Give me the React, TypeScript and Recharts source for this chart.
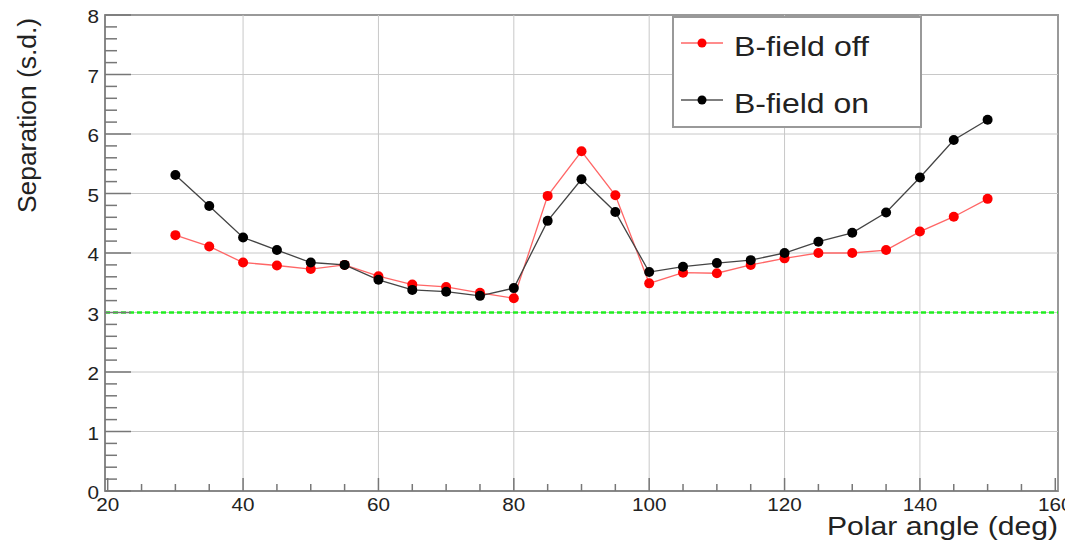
import React from 'react';
import { LineChart, Line, XAxis, YAxis, ReferenceLine, ReferenceArea, Legend } from 'recharts';

const angles = [30, 35, 40, 45, 50, 55, 60, 65, 70, 75, 80, 85, 90, 95, 100, 105, 110, 115, 120, 125, 130, 135, 140, 145, 150];
const bFieldOff = [4.30, 4.11, 3.84, 3.79, 3.73, 3.80, 3.61, 3.47, 3.43, 3.33, 3.24, 4.96, 5.71, 4.97, 3.49, 3.67, 3.66, 3.80, 3.91, 4.00, 4.00, 4.05, 4.36, 4.61, 4.91];
const bFieldOn = [5.31, 4.79, 4.26, 4.05, 3.84, 3.80, 3.55, 3.38, 3.35, 3.28, 3.41, 4.54, 5.24, 4.69, 3.68, 3.77, 3.83, 3.88, 4.00, 4.19, 4.34, 4.68, 5.27, 5.90, 6.24];

const xTicks = [20, 25, 30, 35, 40, 45, 50, 55, 60, 65, 70, 75, 80, 85, 90, 95, 100, 105, 110, 115, 120, 125, 130, 135, 140, 145, 150, 155, 160];
const xMajor = [20, 40, 60, 80, 100, 120, 140, 160];
const yTicks = [0, 0.2, 0.4, 0.6, 0.8, 1, 1.2, 1.4, 1.6, 1.8, 2, 2.2, 2.4, 2.6, 2.8, 3, 3.2, 3.4, 3.6, 3.8, 4, 4.2, 4.4, 4.6, 4.8, 5, 5.2, 5.4, 5.6, 5.8, 6, 6.2, 6.4, 6.6, 6.8, 7, 7.2, 7.4, 7.6, 7.8, 8];
const yMajor = [0, 1, 2, 3, 4, 5, 6, 7, 8];
const threshold = 3;

const seriesOff = 'B-field off';
const seriesOn = 'B-field on';

const data = angles.map((a, i) => ({ angle: a, off: bFieldOff[i], on: bFieldOn[i] }));

const FONT = '"Liberation Sans", Arial, Helvetica, sans-serif';
const TICK = '#777';

const XTick = (props: any) => {
  const { x, y, payload } = props;
  const v = payload.value;
  const major = xMajor.includes(v);
  return (
    <g>
      <line x1={x} x2={x} y1={y} y2={y - (major ? 13 : 7)} stroke={TICK} strokeWidth={1.5} />
      {major && (
        <text transform={`translate(${x},${y + 20}) scale(1.15,1)`} textAnchor="middle" fontSize={18} fill="#222" fontFamily={FONT}>
          {v}
        </text>
      )}
    </g>
  );
};

const YTick = (props: any) => {
  const { x, y, payload } = props;
  const v = payload.value;
  const major = yMajor.includes(v);
  return (
    <g>
      <line x1={x} x2={x + (major ? 26 : 12)} y1={y} y2={y} stroke={TICK} strokeWidth={1.5} />
      {major && (
        <text transform={`translate(${x - 6},${y + 8}) scale(1.15,1)`} textAnchor="end" fontSize={18} fill="#222" fontFamily={FONT}>
          {v}
        </text>
      )}
    </g>
  );
};

const XTitle = (props: any) => {
  const vb = props.viewBox || { x: 97, y: 483, width: 953, height: 52 };
  return (
    <text x={vb.x + vb.width} y={vb.y + 44} textAnchor="end" fontSize={25} fill="#222" fontFamily={FONT} textLength={231} lengthAdjust="spacingAndGlyphs">
      Polar angle (deg)
    </text>
  );
};

const YTitle = (props: any) => {
  const vb = props.viewBox || { x: 0, y: 7, width: 97, height: 476 };
  const tx = vb.x + 28;
  const ty = vb.y + 3;
  return (
    <text transform={`translate(${tx},${ty}) rotate(-90)`} x={0} y={0} textAnchor="end" fontSize={26} fill="#222" fontFamily={FONT} textLength={195} lengthAdjust="spacingAndGlyphs">
      Separation (s.d.)
    </text>
  );
};

const LegendBox = (props: any) => {
  const payload = props.payload || [];
  const rows = [27, 84];
  return (
    <svg width={250} height={112} style={{ display: 'block' }}>
      <rect x={1} y={1} width={248} height={110} fill="#fff" stroke="#999" strokeWidth={2} />
      {payload.map((p: any, i: number) => {
        const cy = rows[i] ?? 27 + i * 57;
        const lineColor = p.dataKey === 'off' ? '#ff6666' : '#555';
        const dotColor = p.dataKey === 'off' ? '#ff0000' : '#000';
        return (
          <g key={p.value}>
            <line x1={9} x2={51} y1={cy} y2={cy} stroke={lineColor} strokeWidth={1.3} />
            <circle cx={30} cy={cy} r={4.5} fill={dotColor} />
            <text x={62} y={cy + 13} fontSize={28} fill="#222" fontFamily={FONT} textLength={135} lengthAdjust="spacingAndGlyphs">
              {p.value}
            </text>
          </g>
        );
      })}
    </svg>
  );
};

export default function App() {
  return (
    <LineChart width={1065} height={535} data={data} margin={{ top: 7, right: 15, left: 0, bottom: 0 }}>
      {xMajor.slice(1, -1).map((v) => (
        <ReferenceLine key={'gx' + v} x={v} stroke="#c8c8c8" strokeWidth={1} />
      ))}
      {yMajor.slice(1, -1).map((v) => (
        <ReferenceLine key={'gy' + v} y={v} stroke="#c8c8c8" strokeWidth={1} />
      ))}
      <ReferenceArea x1={19.6} x2={160.4} y1={0} y2={8} fill="none" stroke="#999" strokeWidth={2} />
      <ReferenceLine y={threshold} stroke="#22ee22" strokeWidth={2.5} strokeDasharray="5 3" />
      <XAxis
        dataKey="angle"
        type="number"
        domain={[19.6, 160.4]}
        allowDataOverflow
        ticks={xTicks}
        interval={0}
        tickSize={0}
        tickMargin={0}
        tickLine={false}
        axisLine={{ stroke: '#888', strokeWidth: 2 }}
        height={52}
        tick={<XTick />}
        label={<XTitle />}
      />
      <YAxis
        type="number"
        domain={[0, 8]}
        allowDataOverflow
        ticks={yTicks}
        interval={0}
        tickSize={0}
        tickMargin={0}
        tickLine={false}
        axisLine={{ stroke: '#888', strokeWidth: 2 }}
        width={97}
        tick={<YTick />}
        label={<YTitle />}
      />
      <Legend
        layout="vertical"
        align="center"
        verticalAlign="middle"
        content={<LegendBox />}
        wrapperStyle={{ left: 664, top: 8, width: 250, height: 112 }}
      />
      <Line
        name={seriesOff}
        dataKey="off"
        type="linear"
        stroke="#ff6666"
        strokeWidth={1.3}
        dot={{ r: 5, fill: '#ff0000', stroke: '#ff0000', strokeWidth: 0 }}
        isAnimationActive={false}
      />
      <Line
        name={seriesOn}
        dataKey="on"
        type="linear"
        stroke="#444"
        strokeWidth={1.3}
        dot={{ r: 5, fill: '#000', stroke: '#000', strokeWidth: 0 }}
        isAnimationActive={false}
      />
    </LineChart>
  );
}
